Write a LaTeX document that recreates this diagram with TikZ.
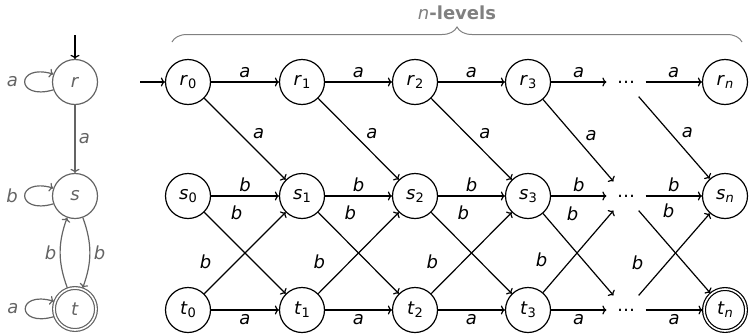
\documentclass[tikz,border=0pt]{standalone}
\usepackage{fontspec}
\setmainfont{DejaVu Sans}
\usetikzlibrary{decorations.pathreplacing,arrows.meta}
\definecolor{gr}{RGB}{100,100,100}
\definecolor{lg}{RGB}{128,128,128}
\newcommand\lbl[2]{\textit{#1}\raisebox{-0.3ex}{\fontsize{13}{13}\selectfont#2}}
\tikzset{
  st/.style={circle, draw, minimum size=45pt, inner sep=0pt},
  acc/.style={double, double distance=1.6pt, minimum size=42pt, outer sep=1.5pt},
  gst/.style={st, draw=gr, text=gr},
  dotnode/.style={minimum width=38pt, minimum height=28pt, inner sep=0pt},
  gedge/.style={->, draw=gr},
  glbl/.style={text=gr},
  every node/.style={font=\fontsize{18}{21}\selectfont},
}
\begin{document}
\begin{tikzpicture}[x=1pt, y=-1pt, line width=1.2pt, >={To[length=4pt, width=9pt]}]
\useasboundingbox (0,0) rectangle (750,335);
% left automaton
\node[gst] (r) at (75,82) {\textit{r}};
\node[gst] (s) at (75,196) {\textit{s}};
\node[gst, acc] (t) at (75,309) {\textit{t}};
\coordinate (ri) at (75,35);
\draw[->] (ri) -- (r);
\draw[gedge] (r) -- node[auto, glbl] {\textit{a}} (s);
\draw[gedge] (s) to[bend left=20] node[auto, glbl] {\textit{b}} (t);
\draw[gedge] (t) to[bend left=20] node[auto, glbl] {\textit{b}} (s);
\draw[gedge] (r.200) .. controls +(-38,11) and +(-38,-11) .. node[left=3pt, glbl] {\textit{a}} (r.160);
\draw[gedge] (s.200) .. controls +(-38,11) and +(-38,-11) .. node[left=3pt, glbl] {\textit{b}} (s.160);
\draw[gedge] (t.200) .. controls +(-38,11) and +(-38,-11) .. node[left=3pt, glbl] {\textit{a}} (t.160);
% grid
\foreach \i/\x in {0/188,1/302,2/415,3/528}{
  \node[st] (r\i) at (\x,82) {\lbl{r}{\i}};
  \node[st] (s\i) at (\x,196) {\lbl{s}{\i}};
  \node[st] (t\i) at (\x,310) {\lbl{t}{\i}};
}
\node[dotnode] (rd) at (626,82) {\dots};
\node[dotnode] (sd) at (626,196) {\dots};
\node[dotnode] (td) at (626,310) {\dots};
\node[st] (rn) at (725,82) {\lbl{r}{\textit{n}}};
\node[st] (sn) at (725,196) {\lbl{s}{\textit{n}}};
\node[st, acc] (tn) at (725,310) {\lbl{t}{\textit{n}}};
\coordinate (i0) at (140,82);
\draw[->] (i0) -- (r0);
\foreach \a/\b in {r0/r1,r1/r2,r2/r3,r3/rd,rd/rn}
  \draw[->] (\a) -- node[above] {\textit{a}} (\b);
\foreach \a/\b in {s0/s1,s1/s2,s2/s3,s3/sd,sd/sn}
  \draw[->] (\a) -- node[above] {\textit{b}} (\b);
\foreach \a/\b in {t0/t1,t1/t2,t2/t3,t3/td,td/tn}
  \draw[->] (\a) -- node[below] {\textit{a}} (\b);
\foreach \a/\b in {r0/s1,r1/s2,r2/s3,r3/sd,rd/sn}
  \draw[->] (\a) -- node[pos=0.55, auto] {\textit{a}} (\b);
\foreach \a/\b in {s0/t1,s1/t2,s2/t3,s3/td,sd/tn}
  \draw[->] (\a) -- node[pos=0.25, shift={(12,-20)}] {\textit{b}} (\b);
\foreach \a/\b in {t0/s1,t1/s2,t2/s3,t3/sd,td/sn}
  \draw[->] (\a) -- node[pos=0.25, shift={(-19,-12)}] {\textit{b}} (\b);
% brace
\draw[lg, line width=1pt, decorate, decoration={brace, amplitude=15pt}] (172,42) -- (742,42);
\node[text=lg] (lv) at (457,13) {\textit{n}\textbf{-levels}};
\end{tikzpicture}
\end{document}
